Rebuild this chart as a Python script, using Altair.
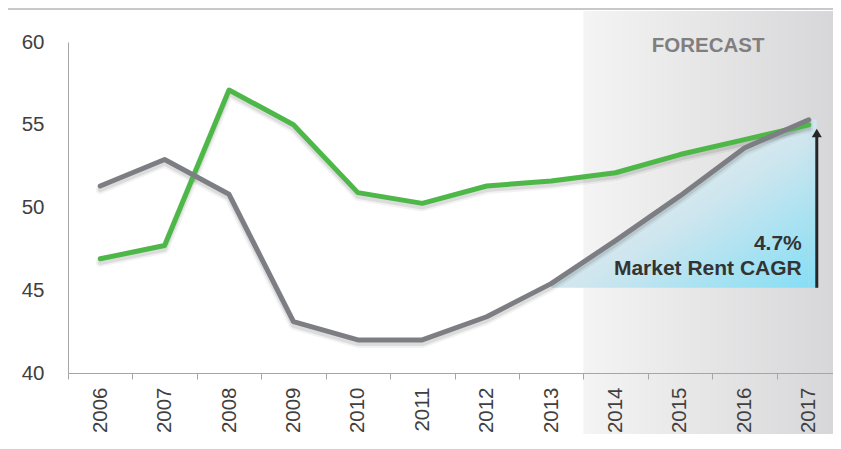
import altair as alt
import pandas as pd

years = ["2006", "2007", "2008", "2009", "2010", "2011", "2012", "2013", "2014", "2015", "2016", "2017"]
grey_vals = [51.3, 52.9, 50.8, 43.1, 42.0, 42.0, 43.4, 45.4, 48.0, 50.7, 53.6, 55.3]
green_vals = [46.9, 47.7, 57.1, 55.0, 50.9, 50.25, 51.3, 51.6, 52.1, 53.2, 54.1, 55.0]
forecast_start = "2014"
cagr_base = 45.15
cagr_top = 54.5
cagr_texts = ["4.7%", "Market Rent CAGR"]
cagr_text_y = [47.45, 45.9]

W, H = 765, 331
RANGE_W = 773
FONT = "Liberation Sans"

grey_df = pd.DataFrame({"year": years, "value": grey_vals})
green_df = pd.DataFrame({"year": years, "value": green_vals})
area_df = grey_df[grey_df["year"] >= "2013"]
fc_df = pd.DataFrame({"year": [forecast_start]})
arrow_df = pd.DataFrame({"year": [years[-1]], "y0": [cagr_base], "y1": [cagr_top],
                         "top": [grey_vals[-1]]})
text_df = pd.DataFrame({"year": [years[-1]] * 2, "label": cagr_texts, "y": cagr_text_y})
fctext_df = pd.DataFrame({"year": ["2016"], "label": ["FORECAST"], "y": [59.4]})

xscale = alt.Scale(domain=years, range=[0, RANGE_W], paddingInner=0, paddingOuter=0)
yscale = alt.Scale(domain=[40, 60], nice=False, zero=False)

xaxis = alt.Axis(labelAngle=270, tickBand="extent", tickSize=6, tickColor="#a6a6a6",
                 domainColor="#a6a6a6", labelFontSize=20.5, labelColor="#404040",
                 labelFont=FONT, labelPadding=8, title=None, grid=False)
yaxis = alt.Axis(values=[40, 45, 50, 55, 60], ticks=False, domainColor="#a6a6a6",
                 labelFontSize=20.5, labelColor="#404040", labelFont=FONT,
                 labelPadding=24, title=None, grid=False)


def X(**kw):
    return alt.X("year:O", scale=xscale, axis=xaxis, **kw)


def Y(field):
    return alt.Y(field, scale=yscale, axis=yaxis)


top_line = alt.Chart(fc_df).mark_rule(color="#c8c8cc", strokeWidth=2).encode(
    x=alt.value(-60), x2=alt.value(W + 10), y=alt.value(-33)
)

forecast = alt.Chart(fc_df).mark_rect(
    color=alt.LinearGradient(
        gradient="linear",
        stops=[alt.GradientStop(color="#f4f4f4", offset=0),
               alt.GradientStop(color="#d6d6d8", offset=1)],
        x1=0, x2=1, y1=0, y2=0,
    )
).encode(
    x=X(bandPosition=0), x2=alt.value(W + 10), y=alt.value(-31), y2=alt.value(H + 80)
)

blue = alt.Chart(area_df).mark_area(
    color=alt.LinearGradient(
        gradient="linear",
        stops=[alt.GradientStop(color="#eef1f3", offset=0),
               alt.GradientStop(color="#cfe6ee", offset=0.5),
               alt.GradientStop(color="#86def5", offset=1)],
        x1=0.1, x2=1, y1=0.1, y2=1,
    )
).encode(
    x=X(), y=Y("value:Q"), y2=alt.datum(cagr_base)
)

blue_edge = alt.Chart(arrow_df).mark_rect(
    x2Offset=8,
    color=alt.LinearGradient(
        gradient="linear",
        stops=[alt.GradientStop(color="#d3e6ed", offset=0),
               alt.GradientStop(color="#86def5", offset=1)],
        x1=0, x2=0, y1=0, y2=1,
    )
).encode(
    x=X(bandPosition=0.5), x2=alt.X2("year"), y=Y("top:Q"), y2="y0:Q"
)


def shadow(df, w, op):
    return alt.Chart(df).transform_calculate(sv="datum.value - 0.22").mark_line(
        color="#000", strokeWidth=w, opacity=op, strokeCap="round", strokeJoin="round"
    ).encode(x=X(), y=Y("sv:Q"))


green_line = alt.Chart(green_df).mark_line(color="#4db848", strokeWidth=5, strokeJoin="round",
                                            strokeCap="round").encode(x=X(), y=Y("value:Q"))
grey_line = alt.Chart(grey_df).mark_line(color="#7d7e83", strokeWidth=5, strokeJoin="round",
                                          strokeCap="round").encode(x=X(), y=Y("value:Q"))

arrow = alt.Chart(arrow_df).mark_rule(color="#262626", strokeWidth=3, xOffset=8).encode(
    x=X(), y=Y("y0:Q"), y2="y1:Q"
)
head = alt.Chart(arrow_df).mark_point(shape="triangle-up", filled=True, color="#262626",
                                      size=100, opacity=1, xOffset=8).encode(
    x=X(), y=Y("y1:Q")
)

texts = alt.Chart(text_df).mark_text(align="right", baseline="alphabetic", font=FONT,
                                     fontSize=21, fontWeight="bold", color="#333333",
                                     dx=-7).encode(
    x=X(), y=Y("y:Q"), text="label:N"
)
fctext = alt.Chart(fctext_df).mark_text(align="center", baseline="alphabetic", font=FONT,
                                        fontSize=20.5, fontWeight="bold", color="#7f7f7f",
                                        dx=-4).encode(
    x=X(bandPosition=0), y=Y("y:Q"), text="label:N"
)

chart = alt.layer(
    top_line, forecast, blue, blue_edge,
    shadow(green_df, 9, 0.05), shadow(green_df, 5, 0.09),
    shadow(grey_df, 9, 0.05), shadow(grey_df, 5, 0.09),
    green_line, grey_line, arrow, head, texts, fctext,
).properties(
    width=W, height=H,
    autosize=alt.AutoSizeParams(type="none"),
    padding={"left": 60, "top": 34, "right": 0, "bottom": 61},
    background="white",
).configure_view(stroke=None)

chart.save("out.html", embed_options={"renderer": "svg", "actions": False})
